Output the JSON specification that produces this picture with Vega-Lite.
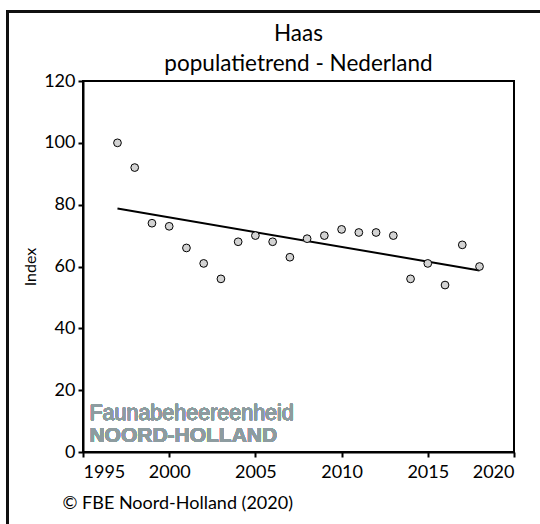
{
  "$schema": "https://vega.github.io/schema/vega-lite/v6.json",
  "width": 431,
  "height": 371,
  "autosize": "none",
  "padding": {"left": 83, "top": 81, "right": 26, "bottom": 72},
  "background": "white",
  "config": {
    "font": "Lato",
    "view": {"stroke": "black", "strokeWidth": 2},
    "axis": {"grid": false, "domainColor": "black", "domainWidth": 2, "tickColor": "black", "tickWidth": 2, "tickSize": 5, "labelColor": "black", "labelFont": "Lato", "labelFontSize": 18, "titleFont": "Lato", "titleColor": "black", "titleFontWeight": "normal"}
  },
  "title": {
    "text": ["Haas", "populatietrend - Nederland"],
    "font": "Lato",
    "fontSize": 22.5,
    "fontWeight": "normal",
    "color": "black",
    "anchor": "middle",
    "frame": "group",
    "baseline": "bottom",
    "lineHeight": 30,
    "offset": 0,
    "dy": 88
  },
  "data": {
    "values": [
      {"jaar": 1997, "index": 100},
      {"jaar": 1998, "index": 92},
      {"jaar": 1999, "index": 74},
      {"jaar": 2000, "index": 73},
      {"jaar": 2001, "index": 66},
      {"jaar": 2002, "index": 61},
      {"jaar": 2003, "index": 56},
      {"jaar": 2004, "index": 68},
      {"jaar": 2005, "index": 70},
      {"jaar": 2006, "index": 68},
      {"jaar": 2007, "index": 63},
      {"jaar": 2008, "index": 69},
      {"jaar": 2009, "index": 70},
      {"jaar": 2010, "index": 72},
      {"jaar": 2011, "index": 71},
      {"jaar": 2012, "index": 71},
      {"jaar": 2013, "index": 70},
      {"jaar": 2014, "index": 56},
      {"jaar": 2015, "index": 61},
      {"jaar": 2016, "index": 54},
      {"jaar": 2017, "index": 67},
      {"jaar": 2018, "index": 60}
    ]
  },
  "encoding": {
    "x": {
      "field": "jaar",
      "type": "quantitative",
      "scale": {"domain": [1995, 2020], "nice": false, "zero": false},
      "axis": {
        "values": [1995, 2000, 2005, 2010, 2015, 2020],
        "format": "d",
        "labelPadding": 6,
        "title": "© FBE Noord-Holland (2020)",
        "titleFontSize": 18,
        "titleAnchor": "start",
        "titleAlign": "left",
        "titleBaseline": "alphabetic",
        "titleX": -21,
        "titleY": 56
      }
    },
    "y": {
      "field": "index",
      "type": "quantitative",
      "scale": {"domain": [0, 120], "nice": false},
      "axis": {
        "values": [0, 20, 40, 60, 80, 100, 120],
        "labelPadding": 3,
        "title": "Index",
        "titleFontSize": 16,
        "titlePadding": 5
      }
    }
  },
  "layer": [
    {
      "mark": {"type": "rect", "fill": null, "stroke": "#111", "strokeWidth": 2, "clip": false},
      "encoding": {
        "x": {"datum": 1990.62},
        "x2": {"datum": 2025},
        "y": {"datum": 142.6},
        "y2": {"datum": -30}
      }
    },
    {
      "mark": {"type": "text", "text": "Faunabeheereenheid", "font": "Liberation Sans", "fontSize": 21.5, "color": "#8d9ca0", "stroke": "#8d9ca0", "strokeWidth": 0.3, "align": "left", "baseline": "alphabetic"},
      "encoding": {
        "x": {"datum": 1995.37},
        "y": {"datum": 10.3}
      }
    },
    {
      "mark": {"type": "text", "text": "NOORD-HOLLAND", "font": "Liberation Sans", "fontSize": 21, "fontWeight": "bold", "color": "#8d9ca0", "align": "left", "baseline": "alphabetic"},
      "encoding": {
        "x": {"datum": 1995.37},
        "y": {"datum": 3.1}
      }
    },
    {
      "transform": [{"regression": "index", "on": "jaar"}],
      "mark": {"type": "line", "color": "black", "strokeWidth": 2}
    },
    {
      "mark": {"type": "point", "filled": true, "fill": "#d3d3d3", "stroke": "black", "strokeWidth": 1, "size": 60, "opacity": 1}
    }
  ]
}
